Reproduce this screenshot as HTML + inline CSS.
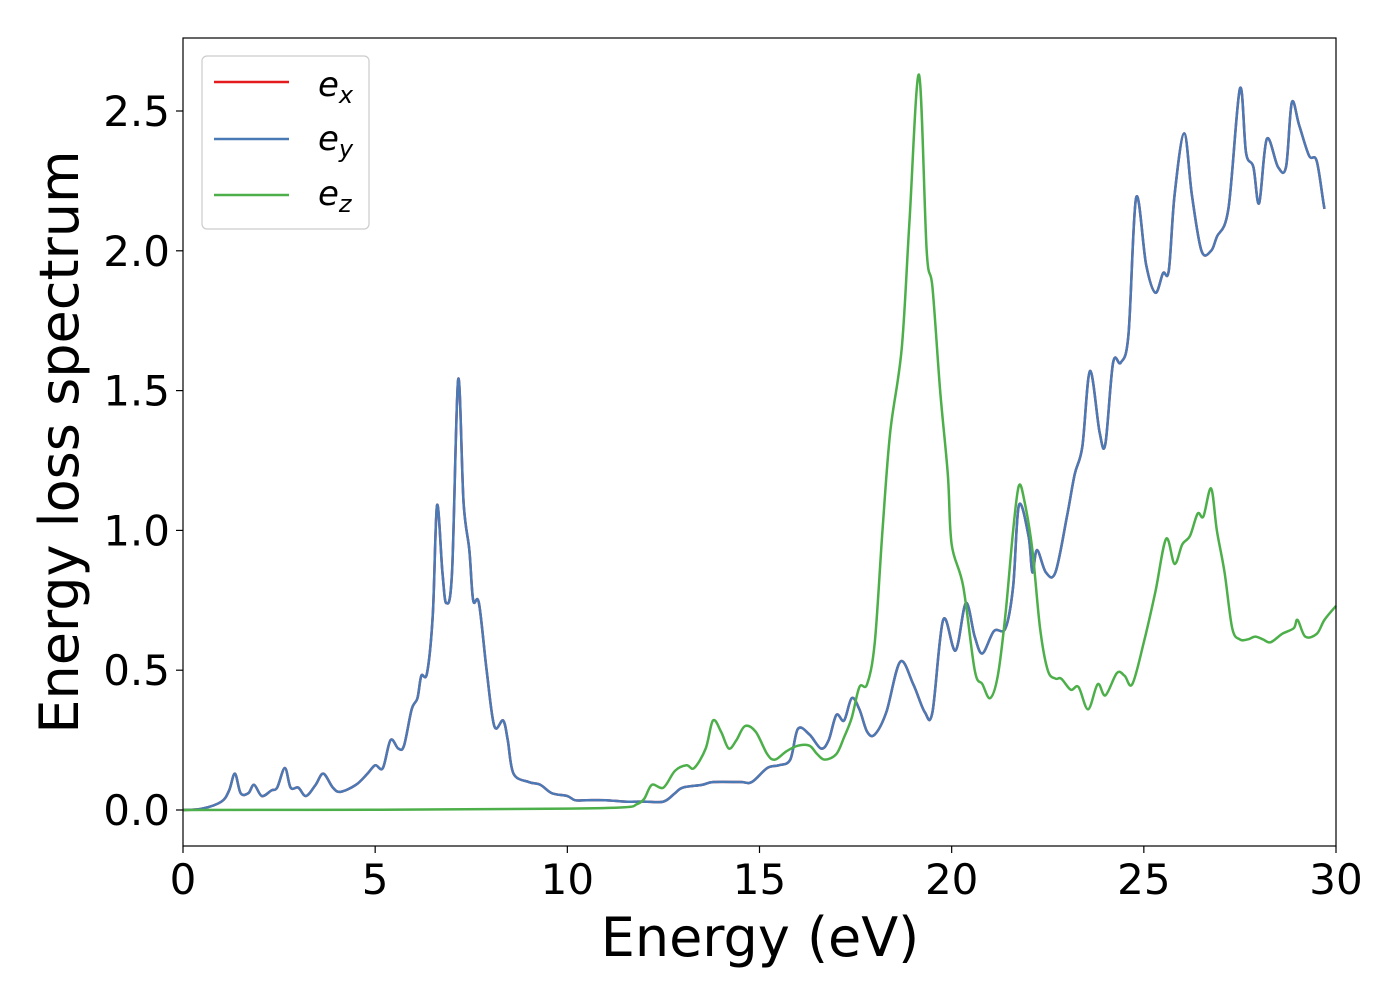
<!DOCTYPE html>
<html><head><meta charset="utf-8"><style>
body{margin:0;background:#fff;}
svg text{font-family:"DejaVu Sans","Liberation Sans",sans-serif;fill:#000;}
</style></head><body>
<svg id="chart" width="1400" height="1000" xmlns="http://www.w3.org/2000/svg">
<rect x="0" y="0" width="1400" height="1000" fill="#fff"/>
<g id="plot"></g>
<rect x="183" y="38" width="1153" height="808" fill="none" stroke="#000" stroke-width="1.2"/>
<g id="ticks"></g>
<text x="760" y="956" font-size="54" text-anchor="middle">Energy (eV)</text>
<text transform="translate(78,442) rotate(-90)" font-size="54" text-anchor="middle">Energy loss spectrum</text>
<g>
<rect x="202" y="56" width="167" height="173" rx="5" fill="#fff" fill-opacity="0.8" stroke="#ccc" stroke-width="1.2"/>
<line x1="214" y1="82" x2="289" y2="82" stroke="#e41a1c" stroke-width="2.5"/>
<text x="318" y="96" font-size="34" font-style="italic">e<tspan font-size="24" dy="7">x</tspan></text>
<line x1="214" y1="139" x2="289" y2="139" stroke="#4a7ab5" stroke-width="2.5"/>
<text x="318" y="150" font-size="34" font-style="italic">e<tspan font-size="24" dy="7">y</tspan></text>
<line x1="214" y1="195" x2="289" y2="195" stroke="#4daf4a" stroke-width="2.5"/>
<text x="318" y="205" font-size="34" font-style="italic">e<tspan font-size="24" dy="7">z</tspan></text>
</g>
</svg>
<script>
const xTicks=[0,5,10,15,20,25,30];
const yTicks=[0.0,0.5,1.0,1.5,2.0,2.5];
const xyEnergy=[0,0.5,1.0,1.2,1.35,1.5,1.7,1.85,2.05,2.3,2.45,2.65,2.8,3.0,3.2,3.45,3.65,3.9,4.1,4.5,4.8,5.0,5.2,5.4,5.6,5.75,5.95,6.1,6.2,6.35,6.5,6.61,6.75,6.85,7.0,7.16,7.3,7.45,7.55,7.7,7.9,8.1,8.33,8.45,8.6,9.0,9.3,9.6,10.0,10.2,10.5,11,11.5,12,12.5,12.8,13.0,13.5,13.8,14.5,14.8,15.2,15.5,15.8,16.0,16.3,16.6,16.8,17.0,17.2,17.4,17.6,17.8,18.0,18.3,18.66,19.0,19.3,19.5,19.78,20.1,20.37,20.6,20.8,21.1,21.4,21.6,21.75,22.0,22.1,22.22,22.45,22.7,23.0,23.2,23.4,23.6,23.85,24.0,24.2,24.4,24.6,24.8,25.06,25.3,25.5,25.65,25.8,26.05,26.25,26.5,26.75,26.9,27.2,27.5,27.66,27.85,28.0,28.2,28.49,28.7,28.85,29.04,29.3,29.5,29.7,29.9,30];
const exValues=[0,0.005,0.03,0.07,0.13,0.06,0.06,0.09,0.05,0.07,0.08,0.15,0.08,0.08,0.05,0.09,0.13,0.08,0.065,0.09,0.13,0.16,0.15,0.25,0.22,0.23,0.36,0.4,0.48,0.49,0.7,1.09,0.85,0.74,0.85,1.54,1.1,0.93,0.75,0.74,0.5,0.3,0.32,0.25,0.13,0.1,0.09,0.06,0.05,0.035,0.035,0.035,0.03,0.03,0.03,0.06,0.08,0.09,0.1,0.1,0.1,0.15,0.16,0.18,0.29,0.27,0.22,0.25,0.34,0.32,0.4,0.36,0.28,0.27,0.35,0.53,0.45,0.35,0.35,0.68,0.57,0.74,0.62,0.56,0.64,0.65,0.8,1.09,0.98,0.85,0.93,0.85,0.85,1.05,1.2,1.3,1.57,1.35,1.31,1.6,1.6,1.7,2.19,1.95,1.85,1.92,1.93,2.2,2.42,2.2,2.0,2.0,2.05,2.15,2.58,2.35,2.3,2.17,2.4,2.3,2.3,2.53,2.45,2.34,2.32,2.15,2.02];
const eyValues=exValues.slice();
const zEnergy=[0,5,10,11.5,11.8,12.0,12.2,12.5,12.8,13.1,13.3,13.6,13.79,14.0,14.2,14.4,14.62,14.9,15.2,15.4,15.7,16.0,16.3,16.5,16.7,17.0,17.2,17.4,17.6,17.8,18.0,18.2,18.4,18.7,18.9,19.15,19.35,19.5,19.7,19.9,20.0,20.3,20.6,20.8,21.0,21.2,21.4,21.6,21.75,21.9,22.1,22.3,22.5,22.7,22.85,23.1,23.3,23.55,23.8,24.0,24.3,24.5,24.7,25.0,25.3,25.58,25.8,26.0,26.2,26.4,26.55,26.75,26.9,27.1,27.3,27.5,27.7,27.9,28.1,28.3,28.6,28.9,29.0,29.2,29.5,29.7,30];
const ezValues=[0,0.001,0.005,0.01,0.02,0.04,0.09,0.08,0.14,0.16,0.15,0.22,0.32,0.28,0.22,0.25,0.3,0.28,0.2,0.18,0.21,0.23,0.23,0.2,0.18,0.2,0.26,0.33,0.44,0.45,0.6,1.0,1.35,1.65,2.1,2.63,2.0,1.87,1.5,1.2,0.95,0.8,0.5,0.45,0.4,0.48,0.7,1.0,1.16,1.1,0.93,0.65,0.5,0.47,0.47,0.43,0.44,0.36,0.45,0.41,0.49,0.48,0.45,0.6,0.78,0.97,0.88,0.95,0.98,1.06,1.05,1.15,1.0,0.85,0.65,0.61,0.61,0.62,0.61,0.6,0.63,0.65,0.68,0.62,0.63,0.68,0.73];
const NS="http://www.w3.org/2000/svg";
const X=v=>183+v*(1153/30);
const Y=v=>810-v*279.6;
function pathD(xs,ys){let d="";for(let i=0;i<xs.length;i++){const px=X(xs[i]),py=Y(ys[i]);if(i===0){d+="M"+px+","+py;continue;}
const x0=X(xs[Math.max(i-2,0)]),y0=Y(ys[Math.max(i-2,0)]),x1=X(xs[i-1]),y1=Y(ys[i-1]),x3=X(xs[Math.min(i+1,xs.length-1)]),y3=Y(ys[Math.min(i+1,xs.length-1)]);
d+=" C"+(x1+(px-x0)/6)+","+(y1+(py-y0)/6)+" "+(px-(x3-x1)/6)+","+(py-(y3-y1)/6)+" "+px+","+py;}return d;}
const plot=document.getElementById("plot");
function addLine(xs,ys,color,name){const p=document.createElementNS(NS,"path");p.setAttribute("d",pathD(xs,ys));p.setAttribute("fill","none");p.setAttribute("stroke",color);p.setAttribute("stroke-width","2.5");


plot.appendChild(p);}
addLine(xyEnergy,exValues,"#e41a1c","series-ex");
addLine(xyEnergy,eyValues,"#4a7ab5","series-ey");
addLine(zEnergy,ezValues,"#4daf4a","series-ez");
const tg=document.getElementById("ticks");
xTicks.forEach(t=>{const l=document.createElementNS(NS,"line");l.setAttribute("x1",X(t));l.setAttribute("x2",X(t));l.setAttribute("y1",846);l.setAttribute("y2",853);l.setAttribute("stroke","#000");l.setAttribute("stroke-width","1.2");


tg.appendChild(l);
const tx=document.createElementNS(NS,"text");tx.setAttribute("x",X(t));tx.setAttribute("y",894);tx.setAttribute("font-size","42");tx.setAttribute("text-anchor","middle");tx.textContent=t;


tg.appendChild(tx);});
yTicks.forEach(t=>{const l=document.createElementNS(NS,"line");l.setAttribute("x1",176);l.setAttribute("x2",183);l.setAttribute("y1",Y(t));l.setAttribute("y2",Y(t));l.setAttribute("stroke","#000");l.setAttribute("stroke-width","1.2");


tg.appendChild(l);
const tx=document.createElementNS(NS,"text");tx.setAttribute("x",170);tx.setAttribute("y",Y(t)+15);tx.setAttribute("font-size","42");tx.setAttribute("text-anchor","end");tx.textContent=t.toFixed(1);


tg.appendChild(tx);});
</script>
</body></html>
